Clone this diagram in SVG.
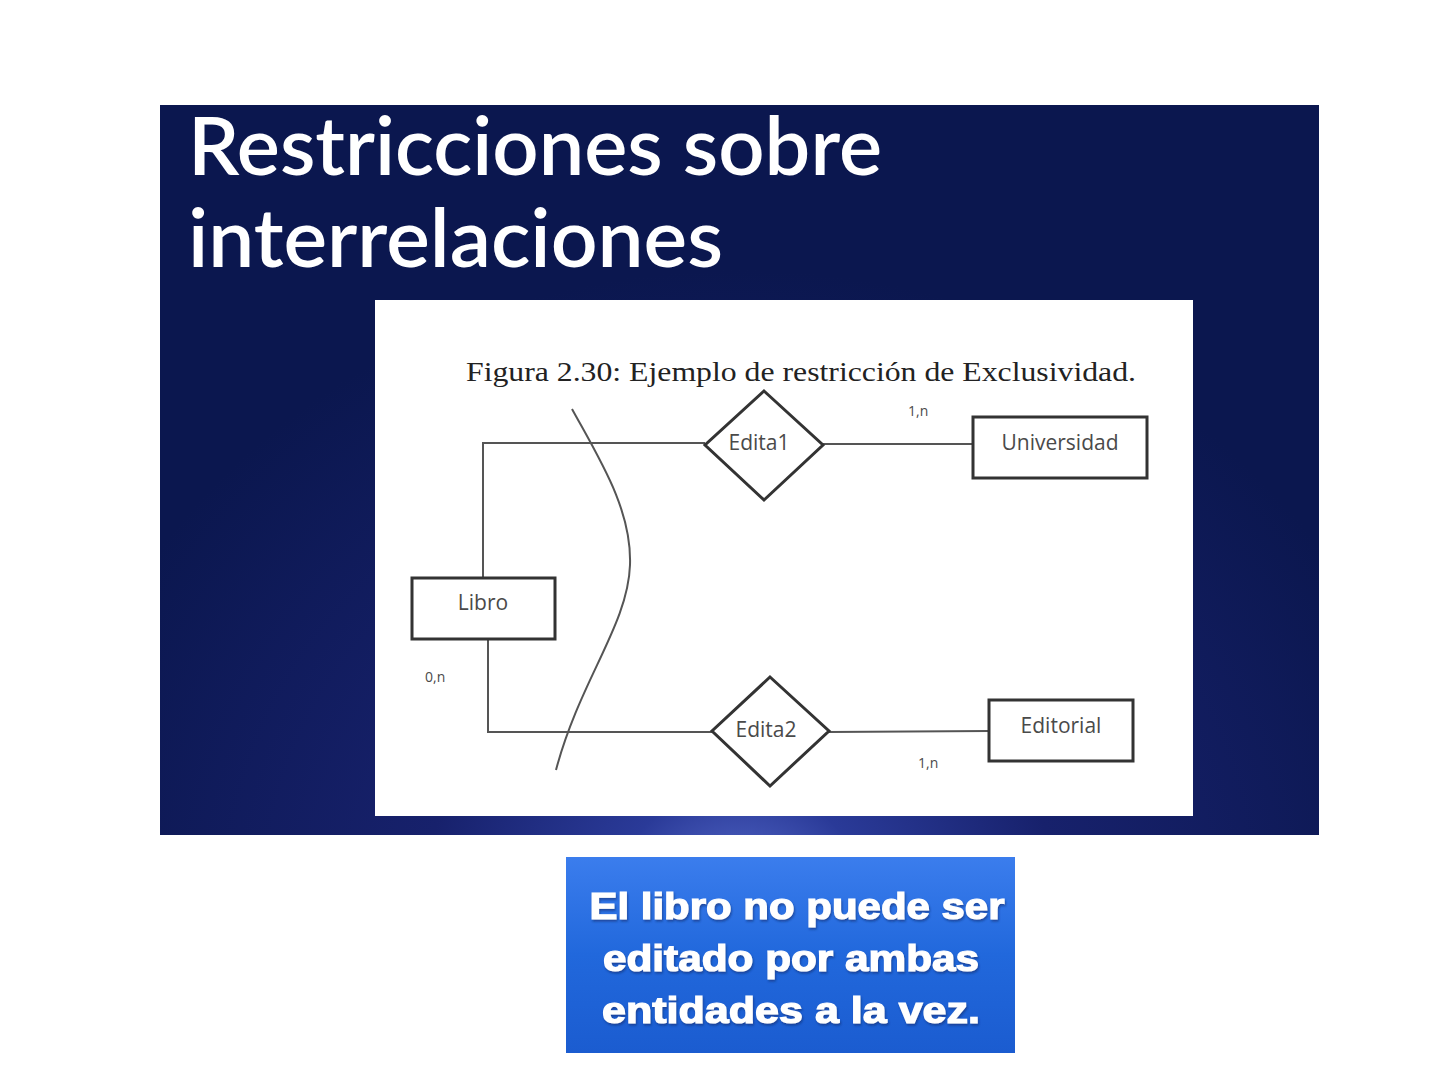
<svg xmlns="http://www.w3.org/2000/svg" width="1440" height="1080" viewBox="0 0 1440 1080">
<defs>
<radialGradient id="bg" cx="740" cy="900" r="700" gradientUnits="userSpaceOnUse" gradientTransform="translate(740 900) scale(1 0.9) translate(-740 -900)">
<stop offset="0" stop-color="#5a6fd0"/>
<stop offset="0.18" stop-color="#2a3a98"/>
<stop offset="0.45" stop-color="#17216c"/>
<stop offset="1" stop-color="#0b174f"/>
</radialGradient>
<linearGradient id="note" x1="0" y1="0" x2="0" y2="1">
<stop offset="0" stop-color="#3b7ded"/>
<stop offset="0.5" stop-color="#2168dc"/>
<stop offset="1" stop-color="#1b5cd0"/>
</linearGradient>
<filter id="sh" x="-5%" y="-5%" width="110%" height="120%">
<feDropShadow dx="1" dy="2" stdDeviation="1" flood-color="#0a2a70" flood-opacity="0.6"/>
</filter>
</defs>
<style>
.title{font-family:Lato,"Open Sans","Liberation Sans",sans-serif;font-size:80px;fill:#ffffff;font-weight:600}
.cap{font-family:"Liberation Serif","DejaVu Serif",serif;font-size:28px;fill:#222222}
.ent{fill:#ffffff;stroke:#333333;stroke-width:3}
.rel{fill:#ffffff;stroke:#333333;stroke-width:3}
.lbl{font-family:"Open Sans","Liberation Sans",sans-serif;font-size:21px;fill:#4a4a4a;text-anchor:middle}
.card{font-family:"Open Sans","Liberation Sans",sans-serif;font-size:14px;fill:#4a4a4a}
.conn{fill:none;stroke:#555555;stroke-width:2}
.note{font-family:"Liberation Sans",Arial,sans-serif;font-weight:bold;font-size:36px;fill:#ffffff;stroke:#ffffff;stroke-width:1.2;text-anchor:middle}
</style>
<rect x="0" y="0" width="1440" height="1080" fill="#ffffff"/>
<rect x="160" y="105" width="1159" height="730" fill="url(#bg)"/>
<text class="title" x="188" y="175" textLength="694" lengthAdjust="spacingAndGlyphs">Restricciones sobre</text>
<text class="title" x="188" y="267" textLength="535" lengthAdjust="spacingAndGlyphs">interrelaciones</text>
<rect x="375" y="300" width="818" height="516" fill="#ffffff"/>
<text class="cap" x="466" y="381" textLength="670" lengthAdjust="spacingAndGlyphs">Figura 2.30: Ejemplo de restricción de Exclusividad.</text>
<g id="connectors">
<polyline class="conn" points="483,578 483,443 705,443"/>
<line class="conn" x1="823" y1="444" x2="973" y2="444"/>
<polyline class="conn" points="488,639 488,732 712,732"/>
<line class="conn" x1="829" y1="732" x2="989" y2="731"/>
<path class="conn" d="M572,409 C600,460 632,510 630,565 C628,625 580,680 556,770"/>
</g>
<g id="libro">
<rect class="ent" x="412" y="578" width="143" height="61"/>
<text class="lbl" x="483" y="610">Libro</text>
</g>
<g id="edita1">
<polygon class="rel" points="764,391 823,445 764,500 705,445"/>
<text class="lbl" x="759" y="450">Edita1</text>
</g>
<g id="universidad">
<rect class="ent" x="973" y="417" width="174" height="61"/>
<text class="lbl" x="1060" y="450">Universidad</text>
</g>
<g id="edita2">
<polygon class="rel" points="770,677 829,731 770,786 712,731"/>
<text class="lbl" x="766" y="737">Edita2</text>
</g>
<g id="editorial">
<rect class="ent" x="989" y="700" width="144" height="61"/>
<text class="lbl" x="1061" y="733">Editorial</text>
</g>
<text class="card" x="908" y="416">1,n</text>
<text class="card" x="425" y="682">0,n</text>
<text class="card" x="918" y="768">1,n</text>
<g id="nota">
<rect x="566" y="857" width="449" height="196" fill="url(#note)"/>
<g filter="url(#sh)">
<text class="note" x="797" y="919" textLength="415" lengthAdjust="spacingAndGlyphs">El libro no puede ser</text>
<text class="note" x="791" y="971" textLength="376" lengthAdjust="spacingAndGlyphs">editado por ambas</text>
<text class="note" x="791" y="1023" textLength="378" lengthAdjust="spacingAndGlyphs">entidades a la vez.</text>
</g>
</g>
</svg>
